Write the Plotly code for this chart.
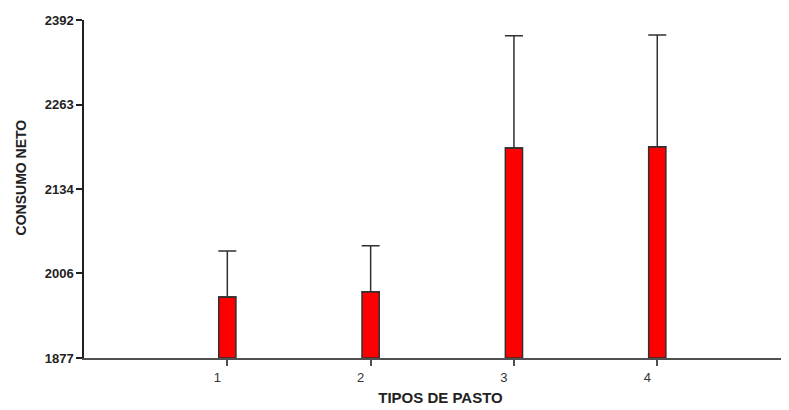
import plotly.graph_objects as go

categories = [1, 2, 3, 4]
means = [1970, 1978, 2197, 2199]
errors = [70, 70, 171, 170]
y_ticks = [1877, 2006, 2134, 2263, 2392]

fig = go.Figure()
fig.add_trace(go.Bar(
    x=categories, y=[m - 1877 for m in means], base=1877,
    width=0.12,
    marker=dict(color="#ff0000", line=dict(color="#303030", width=1.5)),
    error_y=dict(type="data", array=errors, arrayminus=[0]*4, symmetric=False,
                 color="#303030", thickness=1.5, width=9),
))
fig.update_layout(
    width=789, height=410,
    margin=dict(l=76, r=0, t=12, b=60),
    plot_bgcolor="white", paper_bgcolor="white",
    showlegend=False,
    font=dict(family="Liberation Sans, Arial", color="#222222"),
    xaxis=dict(range=[0, 4.975], tickvals=categories, ticktext=[str(c) for c in categories],
               showline=True, linecolor="#505050", linewidth=2,
               ticks="outside", ticklen=6, tickcolor="#505050", tickwidth=1.5,
               showgrid=False, zeroline=False, ticklabelshift=-10,
               tickfont=dict(size=13, color="#333333"),
               title=dict(text="<b>TIPOS DE PASTO</b>", font=dict(size=15, color="#222222"), standoff=9)),
    yaxis=dict(range=[1877, 2392], tickvals=y_ticks, ticktext=[str(v) for v in y_ticks],
               showline=True, linecolor="#202020", linewidth=1.5,
               ticks="outside", ticklen=6, tickcolor="#202020", tickwidth=1.5,
               showgrid=False, zeroline=False,
               tickfont=dict(size=13, color="#222222", weight="bold")),
    annotations=[dict(text="<b>CONSUMO NETO</b>", textangle=-90, xref="paper", yref="paper",
                      x=-0.088, y=0.535, xanchor="center", yanchor="middle", showarrow=False,
                      font=dict(size=14, color="#222222"))],
)
fig.write_html("out.html")
